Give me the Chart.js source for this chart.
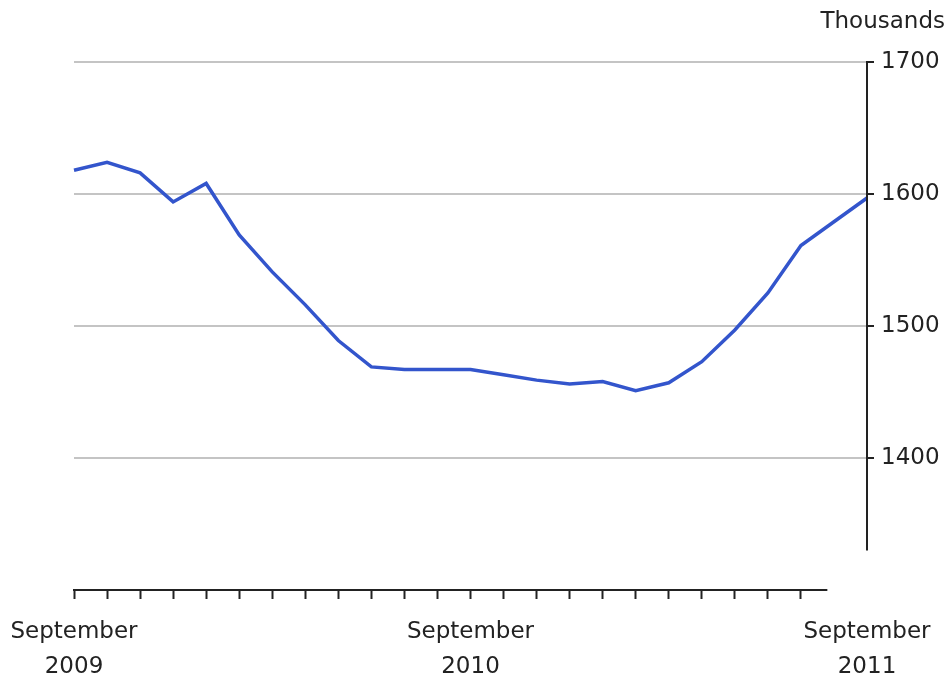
<!DOCTYPE html>
<html>
<head>
<meta charset="utf-8">
<script src="https://cdn.jsdelivr.net/npm/chart.js@4"></script>
<style>
  body { margin: 0; background: #fff; }
</style>
</head>
<body>
<canvas id="chart" width="948" height="676"></canvas>
<script>
// monthly, September 2009 to September 2011
var months = ["Sep 2009", "Oct 2009", "Nov 2009", "Dec 2009", "Jan 2010", "Feb 2010", "Mar 2010",
  "Apr 2010", "May 2010", "Jun 2010", "Jul 2010", "Aug 2010", "Sep 2010", "Oct 2010", "Nov 2010",
  "Dec 2010", "Jan 2011", "Feb 2011", "Mar 2011", "Apr 2011", "May 2011", "Jun 2011", "Jul 2011",
  "Aug 2011", "Sep 2011"];
var values = [1618, 1624, 1616, 1594, 1608, 1569, 1541, 1516, 1489, 1469, 1467, 1467, 1467, 1463,
  1459, 1456, 1458, 1451, 1457, 1473, 1497, 1525, 1561, 1579, 1597];
var xLabels = { 0: ["September", "2009"], 12: ["September", "2010"], 24: ["September", "2011"] };
var yTicks = [1400, 1500, 1600, 1700];
var unitLabel = "Thousands";

var font = { family: "DejaVu Sans", size: 23, lineHeight: 1.5 };

// axis lines drawn by hand: they stop short of the chart corners
var axisLines = {
  id: 'axisLines',
  afterDraw: function (chart) {
    var c = chart.ctx, x = chart.scales.x, y = chart.scales.y;
    c.save();
    c.strokeStyle = '#222';
    c.lineWidth = 2;
    c.beginPath();
    var step = x.getPixelForValue(1) - x.getPixelForValue(0);
    c.moveTo(x.getPixelForValue(0) - 1, chart.chartArea.bottom);
    c.lineTo(x.getPixelForValue(22) + step * 0.8, chart.chartArea.bottom);
    c.moveTo(chart.chartArea.right, y.getPixelForValue(1700) - 1);
    c.lineTo(chart.chartArea.right, y.getPixelForValue(1330));
    c.stroke();
    c.fillStyle = '#222';
    c.font = font.size + 'px ' + font.family;
    c.textAlign = 'right';
    c.textBaseline = 'middle';
    c.fillText(unitLabel, chart.width - 3, 22);
    c.restore();
  }
};

var ctx = document.getElementById('chart').getContext('2d');
var chart = new Chart(ctx, {
  type: 'line',
  data: {
    labels: months,
    datasets: [{
      data: values,
      borderColor: '#3355cc',
      borderWidth: 3.5,
      pointRadius: 0,
      tension: 0,
      fill: false
    }]
  },
  options: {
    responsive: false,
    animation: false,
    layout: { padding: { left: 74, top: 62, right: 0, bottom: 0 } },
    plugins: { legend: { display: false }, tooltip: { enabled: false } },
    scales: {
      x: {
        offset: false,
        border: { display: false },
        grid: {
          drawOnChartArea: false,
          tickLength: 9,
          tickWidth: 2,
          tickColor: function (c) { return c.index <= 22 ? '#222' : 'rgba(0,0,0,0)'; }
        },
        ticks: {
          autoSkip: false,
          maxRotation: 0,
          padding: 16,
          color: '#222',
          font: font,
          callback: function (v, i) { return xLabels[i] || ''; }
        },
        afterFit: function (s) { s.height = 86; s.paddingLeft = 0; s.paddingRight = 0; }
      },
      y: {
        position: 'right',
        min: 1300,
        max: 1700,
        border: { display: false },
        afterBuildTicks: function (s) { s.ticks = yTicks.map(function (v) { return { value: v }; }); },
        grid: {
          color: '#c4c4c4',
          lineWidth: 2,
          tickLength: 7,
          tickWidth: 2,
          tickColor: '#222'
        },
        ticks: {
          padding: 7,
          color: '#222',
          font: font,
          callback: function (v) { return String(v); }
        },
        afterFit: function (s) { s.width = 81; s.paddingTop = 0; s.paddingBottom = 0; }
      }
    }
  },
  plugins: [axisLines]
});
</script>
</body>
</html>
